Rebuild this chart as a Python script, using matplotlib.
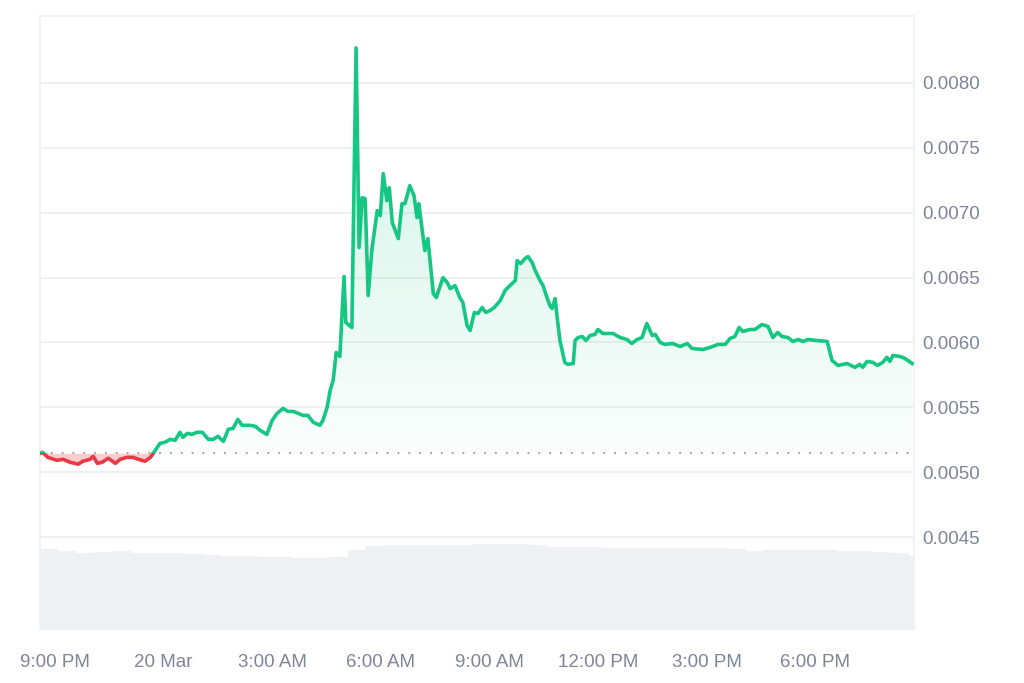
import matplotlib
matplotlib.use("Agg")
import matplotlib.pyplot as plt
import matplotlib.patches as mpatches
import numpy as np

plt.rcParams["font.family"] = ["Liberation Sans", "DejaVu Sans"]

# minutes after 9:00 PM (19 Mar) and price (USD)
minutes = [
    -25, -21, -12, 3, 13, 25, 38, 46, 58, 63, 70, 78, 88, 100, 108, 119, 129, 138, 149, 158,
    166, 174, 182, 191, 199, 207, 212, 219, 227, 235, 244, 254, 262, 270, 279, 287, 295, 303,
    310, 323, 332, 340, 351, 360, 368, 378, 386, 395, 403, 411, 419, 428, 439, 444, 451, 456,
    461, 466, 472, 479, 482, 492, 499, 504, 509, 514, 519, 525, 534, 539, 544, 550, 554, 559,
    569, 575, 580, 588, 595, 600, 603, 613, 618, 627, 632, 643, 650, 655, 663, 671, 676, 683,
    688, 695, 701, 708, 714, 721, 728, 738, 746, 754, 763, 766, 772, 779, 784, 791, 796, 804,
    809, 816, 821, 824, 829, 832, 837, 845, 850, 859, 862, 867, 874, 880, 887, 895, 900, 908,
    915, 925, 937, 948, 956, 965, 973, 981, 990, 995, 1003, 1011, 1024, 1036, 1048, 1056, 1074,
    1086, 1099, 1111, 1119, 1127, 1134, 1140, 1152, 1160, 1172, 1182, 1190, 1198, 1205, 1215,
    1223, 1232, 1240, 1248, 1263, 1280, 1288, 1298, 1313, 1326, 1334, 1339, 1346, 1356, 1363,
    1372, 1379, 1384, 1389, 1401, 1409, 1421,
]
prices = [
    0.005146, 0.005154, 0.005115, 0.005092, 0.005100, 0.005077, 0.005062, 0.005085, 0.005100,
    0.005123, 0.005069, 0.005077, 0.005108, 0.005069, 0.005100, 0.005115, 0.005115, 0.005100,
    0.005085, 0.005115, 0.005169, 0.005223, 0.005231, 0.005254, 0.005246, 0.005308, 0.005269,
    0.005300, 0.005292, 0.005308, 0.005308, 0.005254, 0.005254, 0.005277, 0.005238, 0.005331,
    0.005338, 0.005408, 0.005362, 0.005362, 0.005354, 0.005323, 0.005292, 0.005400, 0.005454,
    0.005492, 0.005469, 0.005469, 0.005454, 0.005438, 0.005438, 0.005385, 0.005362, 0.005400,
    0.005500, 0.005631, 0.005708, 0.005923, 0.005892, 0.006508, 0.006154, 0.006115, 0.008269,
    0.006731, 0.007115, 0.007108, 0.006362, 0.006708, 0.007015, 0.006977, 0.007300, 0.007092,
    0.007192, 0.006923, 0.006800, 0.007069, 0.007069, 0.007208, 0.007131, 0.006962, 0.007069,
    0.006708, 0.006800, 0.006377, 0.006346, 0.006500, 0.006462, 0.006415, 0.006438, 0.006346,
    0.006308, 0.006131, 0.006092, 0.006231, 0.006223, 0.006269, 0.006231, 0.006246, 0.006269,
    0.006323, 0.006400, 0.006438, 0.006477, 0.006631, 0.006608, 0.006646, 0.006662, 0.006615,
    0.006554, 0.006477, 0.006438, 0.006338, 0.006277, 0.006262, 0.006338, 0.006208, 0.006015,
    0.005846, 0.005831, 0.005838, 0.006015, 0.006038, 0.006046, 0.006015, 0.006054, 0.006062,
    0.006100, 0.006069, 0.006069, 0.006069, 0.006038, 0.006023, 0.005992, 0.006023, 0.006038,
    0.006146, 0.006054, 0.006062, 0.006000, 0.005985, 0.005992, 0.005969, 0.005992, 0.005954,
    0.005946, 0.005962, 0.005985, 0.005985, 0.006031, 0.006046, 0.006115, 0.006085, 0.006100,
    0.006100, 0.006138, 0.006123, 0.006038, 0.006077, 0.006046, 0.006038, 0.006008, 0.006023,
    0.006008, 0.006023, 0.006015, 0.006008, 0.005862, 0.005823, 0.005838, 0.005808, 0.005831,
    0.005808, 0.005854, 0.005846, 0.005823, 0.005846, 0.005885, 0.005854, 0.005900, 0.005892,
    0.005877, 0.005838,
]

# volume, one bar per 30 min starting 8:35 PM (arbitrary units)
vol_start = -25
volumes = [
    81, 79, 77, 78, 79, 77, 77, 77, 76, 75, 74, 74, 73, 73, 72, 72, 73, 80, 84, 85, 85, 85,
    85, 85, 86, 86, 86, 85, 83, 83, 83, 82, 82, 82, 82, 82, 82, 82, 81, 79, 80, 80, 80, 80,
    79, 79, 78, 77, 74,
]

tick_hours = [0, 3, 6, 9, 12, 15, 18, 21]
tick_labels = ["9:00 PM", "20 Mar", "3:00 AM", "6:00 AM", "9:00 AM", "12:00 PM", "3:00 PM", "6:00 PM"]
y_ticks = [0.0045, 0.0050, 0.0055, 0.0060, 0.0065, 0.0070, 0.0075, 0.0080]

GREEN = "#16c784"
RED = "#ea3943"
GRID = "#eeeeee"
TEXT = "#7d8596"

x = np.array(minutes, dtype=float)
p = np.array(prices)
base = p[0]
xmin, xmax = -25, 1424
ymin, ymax = 0.003785, 0.008515

fig = plt.figure(figsize=(10.24, 6.83), dpi=100)
ax = fig.add_axes([0.0391, 0.0776, 0.8535, 0.899])
vax = ax.twinx()
vax.set_zorder(0)
ax.set_zorder(1)
ax.patch.set_visible(False)

# volume bars
vx = vol_start + 30 * np.arange(len(volumes))
vax.bar(vx, volumes, width=30, align="edge", color="#eef0f3",
        edgecolor="#f5f6f8", linewidth=0.2)
vax.set_ylim(0, 614)
vax.set_xlim(xmin, xmax)
vax.axis("off")

# gradient fill above baseline (single polygon for clipping)
fill_up = ax.fill_between(x, np.maximum(p, base), base, color="none", linewidth=0)
grad = np.zeros((256, 1, 4))
grad[:, 0, :3] = matplotlib.colors.to_rgb(GREEN)
grad[:, 0, 3] = np.linspace(0.02, 0.22, 256)
img = ax.imshow(grad, aspect="auto", origin="lower",
                extent=[xmin, xmax, base, p.max()], zorder=2)
img.set_clip_path(fill_up.get_paths()[0], transform=ax.transData)

ax.fill_between(x, np.minimum(p, base), base, color=RED, alpha=0.25,
                linewidth=0, zorder=2)

# line: green above baseline, red below
up = ax.plot(x, p, color=GREEN, lw=2.6, zorder=4, solid_joinstyle="round")[0]
dn = ax.plot(x, p, color=RED, lw=2.6, zorder=4, solid_joinstyle="round")[0]
r_up = mpatches.Rectangle((xmin, base), xmax - xmin, ymax - base, transform=ax.transData)
r_dn = mpatches.Rectangle((xmin, ymin), xmax - xmin, base - ymin, transform=ax.transData)
up.set_clip_path(r_up)
dn.set_clip_path(r_dn)

ax.axhline(base, color="#9a9a9a", lw=1.3, linestyle=(0, (1, 5)), zorder=3)

ax.set_xlim(xmin, xmax)
ax.set_ylim(ymin, ymax)
ax.set_yticks(y_ticks)
ax.set_yticklabels([f"{v:.4f}" for v in y_ticks])
ax.yaxis.tick_right()
ax.set_xticks([h * 60 for h in tick_hours])
ax.set_xticklabels(tick_labels)
ax.tick_params(axis="both", length=0, labelsize=13.5, colors=TEXT)
ax.tick_params(axis="y", pad=6)
ax.tick_params(axis="x", pad=17)
ax.grid(axis="y", color=GRID, lw=1.2)
ax.set_axisbelow(True)
for s in ["left", "right", "top"]:
    ax.spines[s].set_color("#f0f0f0")
    ax.spines[s].set_linewidth(1.2)
ax.spines["bottom"].set_visible(False)

fig.savefig("out.png", dpi=100)
